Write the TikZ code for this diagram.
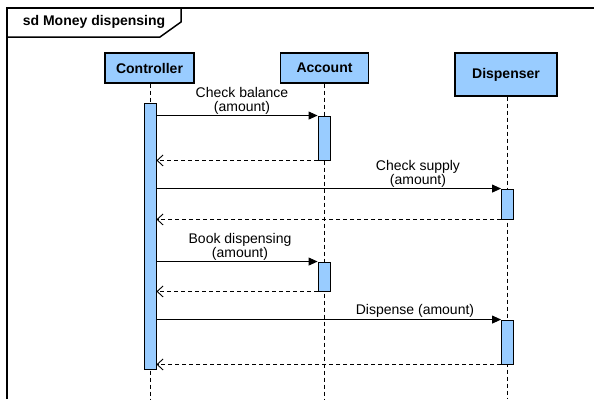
\documentclass[tikz,border=0pt]{standalone}
\usepackage{fontspec}
\setmainfont{Liberation Sans}
\usetikzlibrary{arrows.meta}
\definecolor{lifeblue}{RGB}{153,204,255}
\tikzset{
  txt/.style={font=\fontsize{14}{14}\selectfont, text=black},
  head/.style={draw=black, line width=1.2pt, fill=lifeblue, inner sep=0pt,
    font=\bfseries\fontsize{14}{14}\selectfont},
  actbar/.style={draw=black, line width=0.9pt, fill=lifeblue, inner sep=0pt,
    minimum width=12pt},
  lifeline/.style={draw=black, line width=0.9pt, dash pattern=on 4pt off 3pt},
  call/.style={draw=black, line width=0.9pt, -{Triangle[length=9pt,width=8pt]}},
  reply/.style={draw=black, line width=0.9pt, dash pattern=on 4pt off 3pt,
    -{Straight Barb[length=6pt,width=11pt,line width=0.9pt]}},
  lbl/.style={txt, align=center, anchor=south, inner sep=1pt},
  frameline/.style={draw=black, line width=1.5pt}
}
\begin{document}
\begin{tikzpicture}[x=1pt,y=-1pt]
  \useasboundingbox (0,0) rectangle (594,399);

  % interaction frame and its name tab
  \draw[frameline] (7,399) -- (7,8) -- (594,8);
  \draw[frameline] (7,37) -- (160,37) -- (181,22) -- (181,8);
  \node[font=\bfseries\fontsize{14}{14}\selectfont] (title) at (94,22) {sd Money dispensing};

  % lifeline heads
  \node[head, minimum width=89pt, minimum height=30pt] (ctrl) at (149.5,68) {Controller};
  \node[head, minimum width=88pt, minimum height=30pt] (acct) at (324.5,68) {Account};
  \node[head, minimum width=102pt, minimum height=43pt] (disp) at (506,74.5) {Dispenser};

  % lifeline ends
  \coordinate (ctrlEnd) at (150,399);
  \coordinate (acctEnd) at (324,399);
  \coordinate (dispEnd) at (507,399);

  \draw[lifeline] (ctrl.south -| ctrlEnd) -- (ctrlEnd);
  \draw[lifeline] (acct.south -| acctEnd) -- (acctEnd);
  \draw[lifeline] (disp.south -| dispEnd) -- (dispEnd);

  % activation bars
  \node[actbar, minimum height=266pt] (cbar) at (150,236) {};
  \node[actbar, minimum height=44pt] (abar1) at (324,138) {};
  \node[actbar, minimum height=30pt] (dbar1) at (507.5,204) {};
  \node[actbar, minimum height=29pt] (abar2) at (324,276.5) {};
  \node[actbar, minimum height=44pt] (dbar2) at (507.5,342) {};

  % messages
  \draw[call] (cbar.east |- abar1.north) -- (abar1.north west);
  \draw[reply] (abar1.south west) -- (cbar.east |- abar1.south);
  \draw[call] (cbar.east |- dbar1.north) -- (dbar1.north west);
  \draw[reply] (dbar1.south west) -- (cbar.east |- dbar1.south);
  \draw[call] (cbar.east |- abar2.north) -- (abar2.north west);
  \draw[reply] (abar2.south west) -- (cbar.east |- abar2.south);
  \draw[call] (cbar.east |- dbar2.north) -- (dbar2.north west);
  \draw[reply] (dbar2.south west) -- (cbar.east |- dbar2.south);

  % message labels
  \node[lbl] (m1) at (242,116) {Check balance\\(amount)};
  \node[lbl] (m2) at (418,189) {Check supply\\(amount)};
  \node[lbl] (m3) at (240,262) {Book dispensing\\(amount)};
  \node[lbl] (m4) at (415,319) {Dispense (amount)};
\end{tikzpicture}
\end{document}
